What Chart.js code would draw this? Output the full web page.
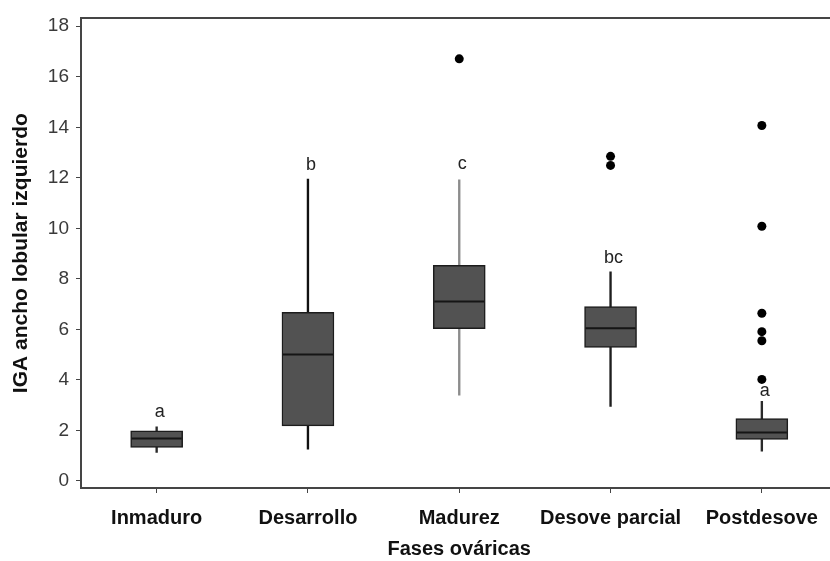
<!DOCTYPE html>
<html>
<head>
<meta charset="utf-8">
<script src="https://cdn.jsdelivr.net/npm/chart.js@4"></script>
<style>
    html, body { margin: 0; padding: 0; background: #ffffff; overflow: hidden; }
    #wrap { width: 842px; height: 561px; position: relative; }
</style>
</head>
<body>
<div id="wrap"><canvas id="boxChart"></canvas></div>
<script>
// Fases ováricas
const phases = ['Inmaduro', 'Desarrollo', 'Madurez', 'Desove parcial', 'Postdesove'];

// Box statistics
const whiskerLow  = [1.13, 1.26, 3.39, 2.95, 1.18];
const q1          = [1.33, 2.18, 6.03, 5.29, 1.64];
const median      = [1.68, 5.00, 7.10, 6.04, 1.92];
const q3          = [1.98, 6.67, 8.53, 6.90, 2.47];
const whiskerHigh = [2.14, 11.95, 11.92, 8.28, 3.15];

// Outliers per phase
const outlierPhase = ['Madurez', 'Desove parcial', 'Desove parcial',
    'Postdesove', 'Postdesove', 'Postdesove', 'Postdesove', 'Postdesove', 'Postdesove'];
const outlierValue = [16.71, 12.85, 12.49, 14.07, 10.08, 6.64, 5.91, 5.55, 4.02];

// Significance letters and their heights
const letters = ['a', 'b', 'c', 'bc', 'a'];
const letterY = [2.73, 12.51, 12.54, 8.83, 3.56];

const yTicks = [0, 2, 4, 6, 8, 10, 12, 14, 16, 18];

const axisColor = '#454545';

// median lines and letters are drawn over the boxes
const boxExtras = {
    id: 'boxExtras',
    afterDatasetsDraw(chart) {
        const { ctx, scales: { x, y } } = chart;
        const half = 26;
        ctx.save();
        ctx.strokeStyle = '#151515';
        ctx.lineWidth = 2;
        median.forEach((m, i) => {
            const cx = x.getPixelForValue(i);
            const py = y.getPixelForValue(m);
            ctx.beginPath();
            ctx.moveTo(cx - half + 1, py);
            ctx.lineTo(cx + half - 1, py);
            ctx.stroke();
        });
        ctx.fillStyle = '#222222';
        ctx.font = '18px "Liberation Sans", Arial, sans-serif';
        ctx.textAlign = 'center';
        ctx.textBaseline = 'middle';
        letters.forEach((t, i) => {
            ctx.fillText(t, x.getPixelForValue(i) + 3, y.getPixelForValue(letterY[i]));
        });
        ctx.restore();
    }
};

const ctx = document.getElementById('boxChart');
new Chart(ctx, {
    data: {
        labels: phases,
        datasets: [
            {
                type: 'bar',
                label: 'whiskers',
                data: phases.map((p, i) => [whiskerLow[i], whiskerHigh[i]]),
                backgroundColor: ['#2a2a2a', '#111111', '#8c8c8c', '#1e1e1e', '#2a2a2a'],
                barThickness: 1.7,
                grouped: false,
                order: 3
            },
            {
                type: 'bar',
                label: 'box',
                data: phases.map((p, i) => [q1[i], q3[i]]),
                backgroundColor: '#525252',
                borderColor: '#1c1c1c',
                borderWidth: 1.5,
                borderSkipped: false,
                barThickness: 52,
                grouped: false,
                order: 2
            },
            {
                type: 'line',
                label: 'outliers',
                data: outlierPhase.map((p, i) => ({ x: p, y: outlierValue[i] })),
                showLine: false,
                pointRadius: 4.5,
                pointBackgroundColor: '#000000',
                pointBorderWidth: 0,
                order: 1
            }
        ]
    },
    options: {
        responsive: true,
        maintainAspectRatio: false,
        animation: false,
        events: [],
        layout: { padding: { left: 0, top: 16, right: 2, bottom: 0 } },
        plugins: {
            legend: { display: false },
            tooltip: { enabled: false }
        },
        scales: {
            x: {
                type: 'category',
                position: 'bottom',
                offset: true,
                grid: { display: true, offset: false, drawOnChartArea: false, tickLength: 5, color: axisColor, lineWidth: 1 },
                border: { display: true, color: axisColor, width: 2 },
                ticks: {
                    color: '#111111',
                    padding: 13,
                    maxRotation: 0,
                    autoSkip: false,
                    font: { family: '"Liberation Sans", Arial, sans-serif', size: 20, weight: 'bold' }
                },
                title: {
                    display: true,
                    text: 'Fases ováricas',
                    color: '#111111',
                    padding: { top: 0, bottom: 0 },
                    font: { family: '"Liberation Sans", Arial, sans-serif', size: 20, weight: 'bold' }
                },
                afterFit(scale) { scale.height = 73; }
            },
            xTop: {
                type: 'category',
                position: 'top',
                offset: true,
                grid: { display: false, drawTicks: false },
                border: { display: true, color: axisColor, width: 2 },
                ticks: { display: false },
                afterFit(scale) { scale.height = 0; }
            },
            y: {
                type: 'linear',
                min: -0.28,
                max: 18.31,
                grid: { display: true, drawOnChartArea: false, tickLength: 5, color: axisColor, lineWidth: 1 },
                border: { display: true, color: axisColor, width: 2 },
                afterBuildTicks(scale) { scale.ticks = yTicks.map(v => ({ value: v })); },
                ticks: {
                    color: '#3a3a3a',
                    padding: 7,
                    font: { family: '"Liberation Sans", Arial, sans-serif', size: 19 }
                },
                title: {
                    display: true,
                    text: 'IGA ancho lobular izquierdo',
                    color: '#111111',
                    padding: { top: 9, bottom: 0 },
                    font: { family: '"Liberation Sans", Arial, sans-serif', size: 21, weight: 'bold' }
                },
                afterFit(scale) { scale.width = 81; }
            }
        }
    },
    plugins: [boxExtras]
});
</script>
</body>
</html>
